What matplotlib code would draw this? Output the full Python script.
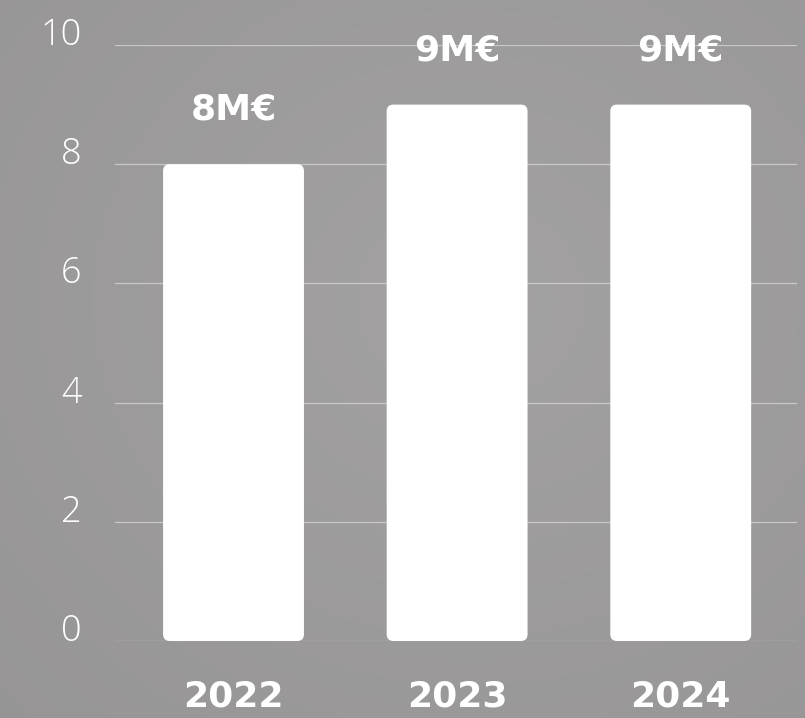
import numpy as np
import matplotlib.pyplot as plt
from matplotlib.patches import FancyBboxPatch

years = ["2022", "2023", "2024"]
revenue = [8, 9, 9]          # millions of euros
value_labels = ["8M€", "9M€", "9M€"]
y_ticks = [0, 2, 4, 6, 8, 10]

W, H, DPI = 805, 718, 100
fig = plt.figure(figsize=(W / DPI, H / DPI), dpi=DPI)

# soft grey backdrop, slightly lighter towards the middle
bg = fig.add_axes([0, 0, 1, 1], zorder=-10)
yy, xx = np.mgrid[0:H, 0:W]
d = np.sqrt(((xx - 470) / W) ** 2 + ((yy - 300) / H) ** 2)
shade = 0.64 - 0.06 * d
bg.imshow(np.dstack([shade, shade * 0.99, shade * 0.99]).clip(0, 1),
          extent=[0, 1, 0, 1], aspect="auto")
bg.axis("off")

ax = fig.add_axes([115 / W, 77 / H, 682 / W, 596 / H])
ax.patch.set_alpha(0)
ax.set_xlim(-0.53, 2.52)
ax.set_ylim(0, 10)
for s in ax.spines.values():
    s.set_visible(False)

ax.set_yticks(y_ticks)
ax.grid(axis="y", color="#c9c7c7", linewidth=0.9)
ax.set_axisbelow(True)
ax.tick_params(axis="y", length=0, pad=24, labelsize=26, labelcolor="white")
for t in ax.get_yticklabels():
    t.set_fontfamily("Open Sans")
    t.set_fontweight(300)
    t.set_verticalalignment("baseline")

ax.set_xticks(range(len(years)))
ax.set_xticklabels(years, fontsize=26, fontweight="bold", color="white",
                   fontfamily="DejaVu Sans")
ax.tick_params(axis="x", length=0, pad=28)

bars = ax.bar(range(len(years)), revenue, width=0.63, color="white")

# swap plain rectangles for rounded ones
fig.canvas.draw()
p0 = ax.transData.transform((0, 0))
p1 = ax.transData.transform((1, 1))
aspect = (p1[0] - p0[0]) / (p1[1] - p0[1])
for b in bars:
    b.set_visible(False)
    rr = FancyBboxPatch((b.get_x(), b.get_y()), b.get_width(), b.get_height(),
                        boxstyle="round,pad=0,rounding_size=0.03",
                        mutation_aspect=aspect, facecolor="white",
                        edgecolor="none", zorder=3)
    ax.add_patch(rr)

for i, (v, lab) in enumerate(zip(revenue, value_labels)):
    ax.annotate(lab, (i, v), xytext=(0, 32), textcoords="offset points",
                ha="center", va="baseline", fontsize=26, fontweight="bold",
                color="white", fontfamily="DejaVu Sans", zorder=4)

fig.savefig("out.png", dpi=DPI)
